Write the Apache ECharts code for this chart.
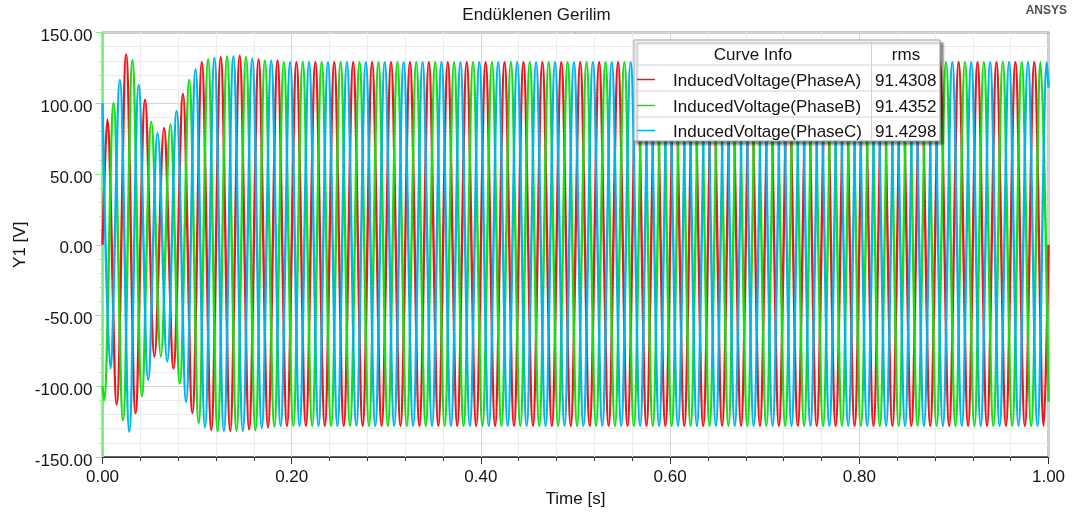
<!DOCTYPE html>
<html>
<head>
<meta charset="utf-8">
<title>Endüklenen Gerilim</title>
<script src="https://cdn.jsdelivr.net/npm/echarts@6/dist/echarts.min.js"></script>
<style>
  html, body { margin: 0; padding: 0; background: #ffffff; }
  #chart { width: 1073px; height: 518px; }
</style>
</head>
<body>
<div id="chart"></div>
<script>
// ---- data -----------------------------------------------------------------
const chartTitle = 'Endüklenen Gerilim';
const seriesNames = ['InducedVoltage(PhaseA)', 'InducedVoltage(PhaseB)', 'InducedVoltage(PhaseC)'];
const rmsValues = ['91.4308', '91.4352', '91.4298'];
const xTickValues = [0, 0.2, 0.4, 0.6, 0.8, 1.0];
const yTickValues = [-150, -100, -50, 0, 50, 100, 150];

// Each phase is stored as its successive extremes (peak, trough, peak, ...),
// one every half period, starting at the time given below.
const halfPeriod = 0.01;                          // s
const firstExtremeTime = [0.005, 0.001667, 0.008333];
const valueAtStart = [0, -100, 100];              // V at t = 0
const valueAtEnd = [0, -111, 111];                // V at t = 1 s

const phaseA = [
  88.5, -113, 134.5, -119, 102.5, -79, 82.5, -87.5, 106.5, -119,
  129, -131, 132.5, -131.5, 133.5, -130.5, 131, -129, 130, -128,
  129, -128, 129, -128, 129, -128, 129, -128, 129, -128,
  129, -128, 129, -128, 129, -128, 129, -128, 129, -128,
  129, -128, 129, -128, 129, -128, 129, -128, 129, -128,
  129, -128, 129, -128, 129, -128, 129, -128, 129, -128,
  129, -128, 129, -128, 129, -128, 129, -128, 129, -128,
  129, -128, 129, -128, 129, -128, 129, -128, 129, -128,
  129, -128, 129, -128, 129, -128, 129, -128, 129, -128,
  129, -128, 129, -128, 129, -128, 129, -128, 129, -128
];
const phaseB = [
  -110, 100, -124, 130.5, -107, 87, -79, 85, -98, 116.5,
  -126, 131, -131.5, 133, -131.5, 132.5, -131, 130, -128.5, 129,
  -128, 129, -128, 129, -128, 129, -128, 129, -128, 129,
  -128, 129, -128, 129, -128, 129, -128, 129, -128, 129,
  -128, 129, -128, 129, -128, 129, -128, 129, -128, 129,
  -128, 129, -128, 129, -128, 129, -128, 129, -128, 129,
  -128, 129, -128, 129, -128, 129, -128, 129, -128, 129,
  -128, 129, -128, 129, -128, 129, -128, 129, -128, 129,
  -128, 129, -128, 129, -128, 129, -128, 129, -128, 129,
  -128, 129, -128, 129, -128, 129, -128, 129, -128, 129
];
const phaseC = [
  -87.5, 116.5, -132, 113, -95.5, 79, -82.5, 94.5, -111, 124,
  -129, 132, -131.5, 133, -131.5, 131.5, -129.5, 130, -128, 129,
  -128, 129, -128, 129, -128, 129, -128, 129, -128, 129,
  -128, 129, -128, 129, -128, 129, -128, 129, -128, 129,
  -128, 129, -128, 129, -128, 129, -128, 129, -128, 129,
  -128, 129, -128, 129, -128, 129, -128, 129, -128, 129,
  -128, 129, -128, 129, -128, 129, -128, 129, -128, 129,
  -128, 129, -128, 129, -128, 129, -128, 129, -128, 129,
  -128, 129, -128, 129, -128, 129, -128, 129, -128, 129,
  -128, 129, -128, 129, -128, 129, -128, 129, -128, 129
];
const phases = [phaseA, phaseB, phaseC];

// ---- style ----------------------------------------------------------------
const colors = ['#f0141e', '#12e012', '#00b4f0'];
const FONT = '"Liberation Sans", Arial, Helvetica, sans-serif';
const TEXT = '#141414';

function buildPoints(k) {
  const pts = [[0, valueAtStart[k]]];
  phases[k].forEach(function (v, i) {
    pts.push([firstExtremeTime[k] + i * halfPeriod, v]);
  });
  pts.push([1, valueAtEnd[k]]);
  return pts;
}

const series = seriesNames.map(function (name, k) {
  return {
    name: name,
    type: 'line',
    data: buildPoints(k),
    showSymbol: false,
    smooth: 0.35,
    clip: true,
    lineStyle: { color: colors[k], width: 2.4 },
    itemStyle: { color: colors[k] },
    emphasis: { disabled: true },
    z: 2 + k
  };
});

// legend table (Curve Info / rms) drawn as graphic elements
const box = { x: 634, y: 40, w: 306, h: 101 };
const rowLines = [65, 91, 117];
const rowCenters = [81, 107, 132];
const colX = 871.5;
const legendEls = [
  {
    type: 'rect', z: 100,
    shape: { x: box.x, y: box.y, width: box.w, height: box.h },
    style: {
      fill: '#ffffff', stroke: '#9c9c9c', lineWidth: 1,
      shadowColor: 'rgba(0,0,0,0.45)', shadowOffsetX: 3, shadowOffsetY: 3, shadowBlur: 2
    }
  },
  {
    type: 'line', z: 101,
    shape: { x1: colX, y1: box.y, x2: colX, y2: box.y + box.h },
    style: { stroke: '#d2d2d2', lineWidth: 1 }
  },
  {
    type: 'text', z: 101, x: 753, y: 55.5,
    style: { text: 'Curve Info', font: '17px ' + FONT, fill: TEXT,
             align: 'center', textAlign: 'center', verticalAlign: 'middle', textVerticalAlign: 'middle' }
  },
  {
    type: 'text', z: 101, x: 906, y: 55.5,
    style: { text: 'rms', font: '17px ' + FONT, fill: TEXT,
             align: 'center', textAlign: 'center', verticalAlign: 'middle', textVerticalAlign: 'middle' }
  }
];
rowLines.forEach(function (y) {
  legendEls.push({
    type: 'line', z: 101,
    shape: { x1: box.x, y1: y, x2: box.x + box.w, y2: y },
    style: { stroke: '#d2d2d2', lineWidth: 1 }
  });
});
seriesNames.forEach(function (name, k) {
  const yc = rowCenters[k];
  legendEls.push({
    type: 'line', z: 101,
    shape: { x1: 637, y1: yc - 1.5, x2: 655, y2: yc - 1.5 },
    style: { stroke: colors[k], lineWidth: 1.5 }
  });
  legendEls.push({
    type: 'text', z: 101, x: 673, y: yc,
    style: { text: name, font: '17px ' + FONT, fill: TEXT,
             align: 'left', textAlign: 'left', verticalAlign: 'middle', textVerticalAlign: 'middle' }
  });
  legendEls.push({
    type: 'text', z: 101, x: 875, y: yc,
    style: { text: rmsValues[k], font: '17px ' + FONT, fill: TEXT,
             align: 'left', textAlign: 'left', verticalAlign: 'middle', textVerticalAlign: 'middle' }
  });
});
legendEls.push({
  type: 'text', z: 101, x: 1067, y: 11,
  style: { text: 'ANSYS', font: 'bold 12px ' + FONT, fill: '#505050',
           align: 'right', textAlign: 'right', verticalAlign: 'middle', textVerticalAlign: 'middle' }
});

const chart = echarts.init(document.getElementById('chart'), null, { renderer: 'canvas' });
chart.setOption({
  animation: false,
  backgroundColor: '#ffffff',
  title: {
    text: chartTitle,
    left: 'center',
    top: 7,
    padding: 0,
    textStyle: { fontFamily: FONT, fontSize: 17, fontWeight: 'normal', color: TEXT }
  },
  grid: {
    left: 102.5, top: 32.5, right: 24.5, bottom: 61,
    show: true, borderColor: '#333333', borderWidth: 1.5, backgroundColor: 'transparent',
    containLabel: false
  },
  xAxis: {
    type: 'value',
    min: xTickValues[0], max: xTickValues[xTickValues.length - 1], interval: 0.2,
    name: 'Time [s]', nameLocation: 'middle', nameGap: 34, nameMoveOverlap: false,
    nameTextStyle: { fontFamily: FONT, fontSize: 17, color: TEXT },
    axisLine: { show: true, onZero: false, lineStyle: { color: '#333333', width: 1.2 } },
    axisTick: { show: true, inside: false, length: 7, lineStyle: { color: '#333333', width: 1 } },
    minorTick: { show: true, splitNumber: 5, length: 4, lineStyle: { color: '#333333', width: 1 } },
    axisLabel: {
      margin: 12, fontFamily: FONT, fontSize: 17, color: TEXT,
      formatter: function (v) { return v.toFixed(2); }
    },
    splitLine: { show: true, lineStyle: { color: '#d4d4d4', width: 1 } },
    minorSplitLine: { show: true, lineStyle: { color: '#ebebeb', width: 1 } }
  },
  yAxis: {
    type: 'value',
    min: yTickValues[0], max: yTickValues[yTickValues.length - 1], interval: 50,
    name: 'Y1 [V]', nameLocation: 'middle', nameGap: 74, nameMoveOverlap: false,
    nameTextStyle: { fontFamily: FONT, fontSize: 17, color: TEXT },
    axisLine: { show: true, onZero: false, lineStyle: { color: '#84ec84', width: 2 } },
    axisTick: { show: true, inside: false, length: 7, lineStyle: { color: '#84ec84', width: 1 } },
    minorTick: { show: true, splitNumber: 5, length: 3, lineStyle: { color: '#84ec84', width: 1 } },
    axisLabel: {
      margin: 10, fontFamily: FONT, fontSize: 17, color: TEXT,
      verticalAlign: 'top', lineHeight: 8,
      formatter: function (v) { return v.toFixed(2); }
    },
    splitLine: { show: true, lineStyle: { color: '#d4d4d4', width: 1 } },
    minorSplitLine: { show: true, lineStyle: { color: '#ebebeb', width: 1 } }
  },
  legend: { show: false },
  tooltip: { show: false },
  graphic: { elements: legendEls },
  series: series
});
</script>
</body>
</html>
